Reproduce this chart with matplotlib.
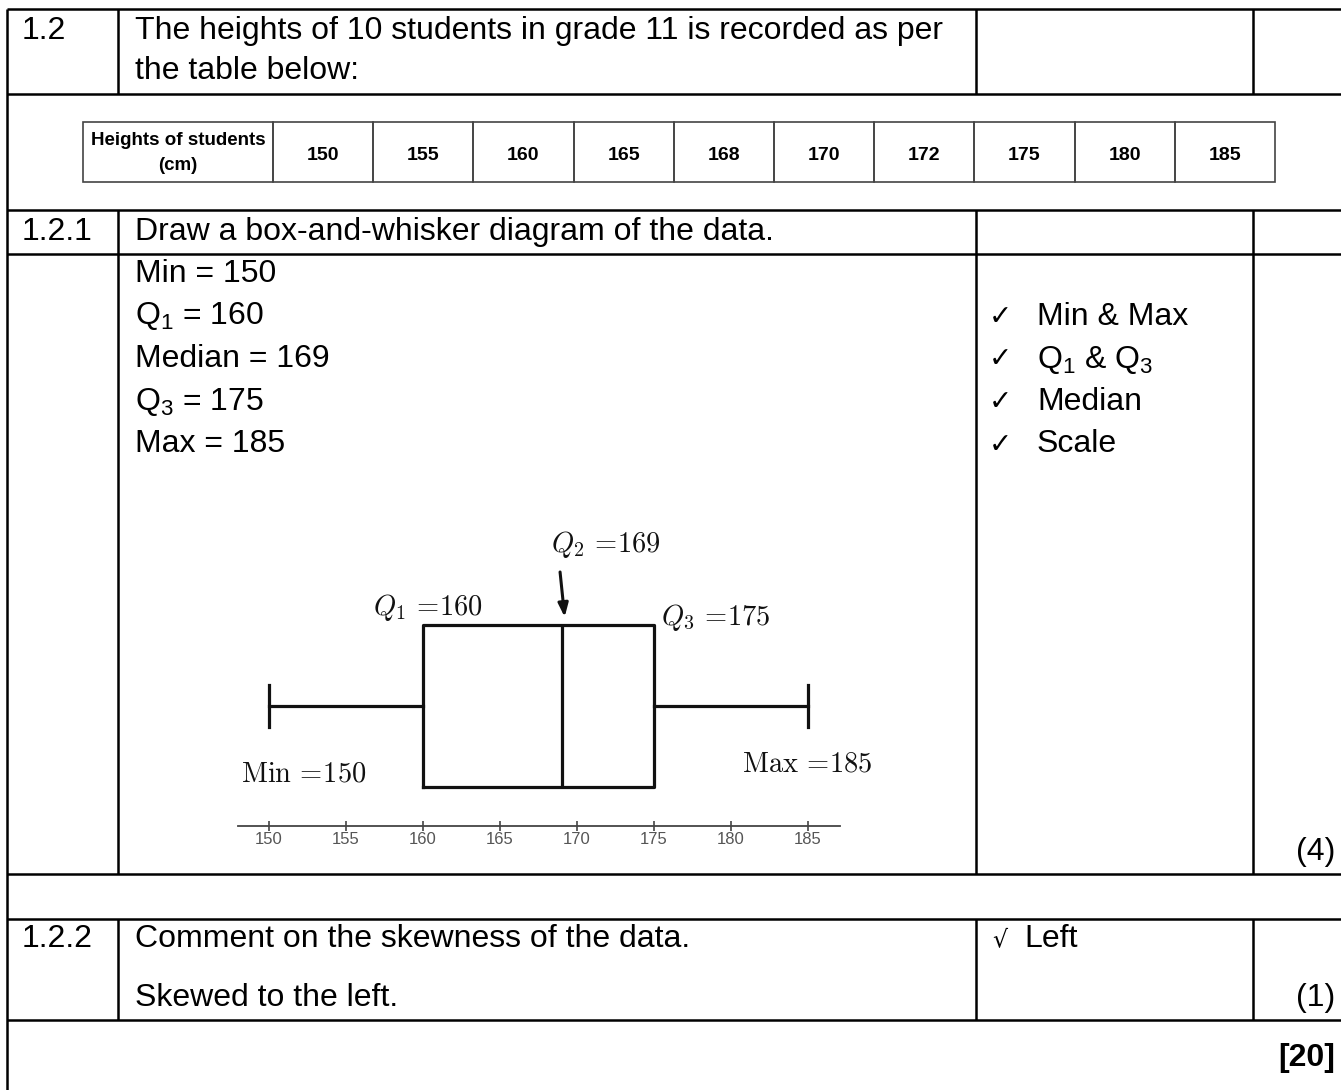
import matplotlib
matplotlib.use("Agg")
import matplotlib.pyplot as plt

# ---------------- data ----------------
heights = [150, 155, 160, 165, 168, 170, 172, 175, 180, 185]
summary_names = ["Min", "Q1", "Median", "Q3", "Max"]
summary_values = [150, 160, 169, 175, 185]
axis_ticks = [150, 155, 160, 165, 170, 175, 180, 185]
memo_items = ["Min & Max", "Q$_1$ & Q$_3$", "Median", "Scale"]

plt.rcParams["font.family"] = ["Liberation Sans", "DejaVu Sans"]
plt.rcParams["mathtext.fontset"] = "custom"
plt.rcParams["mathtext.rm"] = "Liberation Sans"
plt.rcParams["mathtext.it"] = "Liberation Sans:italic"

W, H = 1341, 1090
fig = plt.figure(figsize=(W / 100, H / 100), dpi=100)
ax0 = fig.add_axes([0, 0, 1, 1])
ax0.set_xlim(0, W)
ax0.set_ylim(H, 0)
ax0.axis("off")

LW = 1.8
def hline(y, x0=7, x1=W, lw=LW):
    ax0.plot([x0, x1], [y, y], color="black", lw=lw, solid_capstyle="butt")
def vline(x, y0, y1, lw=LW):
    ax0.plot([x, x], [y0, y1], color="black", lw=lw, solid_capstyle="butt")

# outer table structure
for y in [9, 94, 210, 254, 874, 919, 1020]:
    hline(y)
vline(7, 9, H)
for x in [118, 976, 1253]:
    vline(x, 9, 94)
    vline(x, 210, 874)
    vline(x, 919, 1020)

FS = 23
txt = dict(fontsize=FS, color="black", va="center")
ax0.text(22, 31, "1.2", **txt)
ax0.text(135, 31, "The heights of 10 students in grade 11 is recorded as per", **txt)
ax0.text(135, 71, "the table below:", **txt)

# inner data table
tx0, ty0, ty1 = 83, 122, 182
first_w, cell_w = 190, 100.2
ax0.add_patch(plt.Rectangle((tx0, ty0), first_w, ty1 - ty0, fill=False, ec="#444444", lw=1.2))
ax0.text(tx0 + first_w / 2, (ty0 + ty1) / 2 + 1, "Heights of students\n(cm)", ha="center",
         va="center", fontsize=13.5, fontweight="bold", linespacing=1.65)
for i, h in enumerate(heights):
    x = tx0 + first_w + i * cell_w
    ax0.add_patch(plt.Rectangle((x, ty0), cell_w, ty1 - ty0, fill=False, ec="#444444", lw=1.2))
    ax0.text(x + cell_w / 2, (ty0 + ty1) / 2 + 3, str(h), ha="center", va="center",
             fontsize=14, fontweight="bold")

ax0.text(22, 232, "1.2.1", **txt)
ax0.text(135, 232, "Draw a box-and-whisker diagram of the data.", **txt)

lines = ["Min = %d" % summary_values[0], "Q$_1$ = %d" % summary_values[1],
         "Median = %d" % summary_values[2], "Q$_3$ = %d" % summary_values[3],
         "Max = %d" % summary_values[4]]
for k, s in enumerate(lines):
    ax0.text(135, 274 + k * 42.5, s, **txt)

for k, s in enumerate(memo_items):
    y = 317 + k * 42.5
    ax0.text(989, y, "\u2713", fontsize=20, va="center", family="DejaVu Sans")
    ax0.text(1037, y, s, **txt)

ax0.text(1335, 852, "(4)", ha="right", **txt)

ax0.text(22, 939, "1.2.2", **txt)
ax0.text(135, 939, "Comment on the skewness of the data.", **txt)
ax0.text(992, 939, "\u221a", fontsize=17, va="center", family="DejaVu Sans")
ax0.text(1024, 939, "Left", **txt)
ax0.text(135, 998, "Skewed to the left.", **txt)
ax0.text(1335, 998, "(1)", ha="right", **txt)
ax0.text(1335, 1058, "[20]", ha="right", fontweight="bold", **txt)

# ---------------- box plot ----------------
px_per_unit = (808 - 269) / 35.0
ax_left_px, ax_right_px = 238, 840
ax_bot_px, ax_top_px = 826, 500
xmin = 150 + (ax_left_px - 269) / px_per_unit
xmax = 150 + (ax_right_px - 269) / px_per_unit
ax = fig.add_axes([ax_left_px / W, (H - ax_bot_px) / H,
                   (ax_right_px - ax_left_px) / W, (ax_bot_px - ax_top_px) / H])
ax.set_xlim(xmin, xmax)
ax.set_ylim(0, ax_bot_px - ax_top_px)
ax.patch.set_alpha(0)

mn, q1, med, q3, mx = summary_values
stats = [dict(whislo=mn, q1=q1, med=med, q3=q3, whishi=mx, fliers=[])]
box_lw = 2.3
ax.bxp(stats, positions=[120], widths=161, capwidths=[42], orientation="horizontal",
       showfliers=False, manage_ticks=False,
       boxprops=dict(color="#111111", lw=box_lw),
       medianprops=dict(color="#111111", lw=box_lw),
       whiskerprops=dict(color="#111111", lw=box_lw),
       capprops=dict(color="#111111", lw=box_lw))

for s in ["top", "left", "right"]:
    ax.spines[s].set_visible(False)
ax.spines["bottom"].set_color("#444444")
ax.spines["bottom"].set_linewidth(1.3)
ax.set_yticks([])
ax.set_xticks(axis_ticks)
ax.set_xticklabels([str(t) for t in axis_ticks])
ax.tick_params(axis="x", direction="inout", length=7, width=1.2, color="#444444",
               labelsize=12, labelcolor="#555555", pad=1)

lab = dict(fontsize=20.5, color="#111111", va="center", math_fontfamily="cm")
def ypx(p):
    return ax_bot_px - p
ax.text(q1 + 0.3, ypx(608), r"$Q_1\,{=}\!%d$" % q1, ha="center", **lab)
ax.text(med - 0.7, ypx(545), r"$Q_2\,{=}\!%d$" % med, ha="left", **lab)
ax.text(q3 + 0.45, ypx(618), r"$Q_3\,{=}\!%d$" % q3, ha="left", **lab)
ax.text(mn - 1.8, ypx(775), r"$\mathrm{Min}\,{=}\!%d$" % mn, ha="left", **lab)
ax.text(mx - 4.3, ypx(765), r"$\mathrm{Max}\,{=}\!%d$" % mx, ha="left", **lab)
ax.annotate("", xy=(med + 0.2, ypx(617)), xytext=(med - 0.1, ypx(572)),
            arrowprops=dict(arrowstyle="-|>,head_length=0.8,head_width=0.3",
                            color="#111111", lw=2.2, shrinkA=0, shrinkB=0))

fig.savefig("out.png", dpi=100)
